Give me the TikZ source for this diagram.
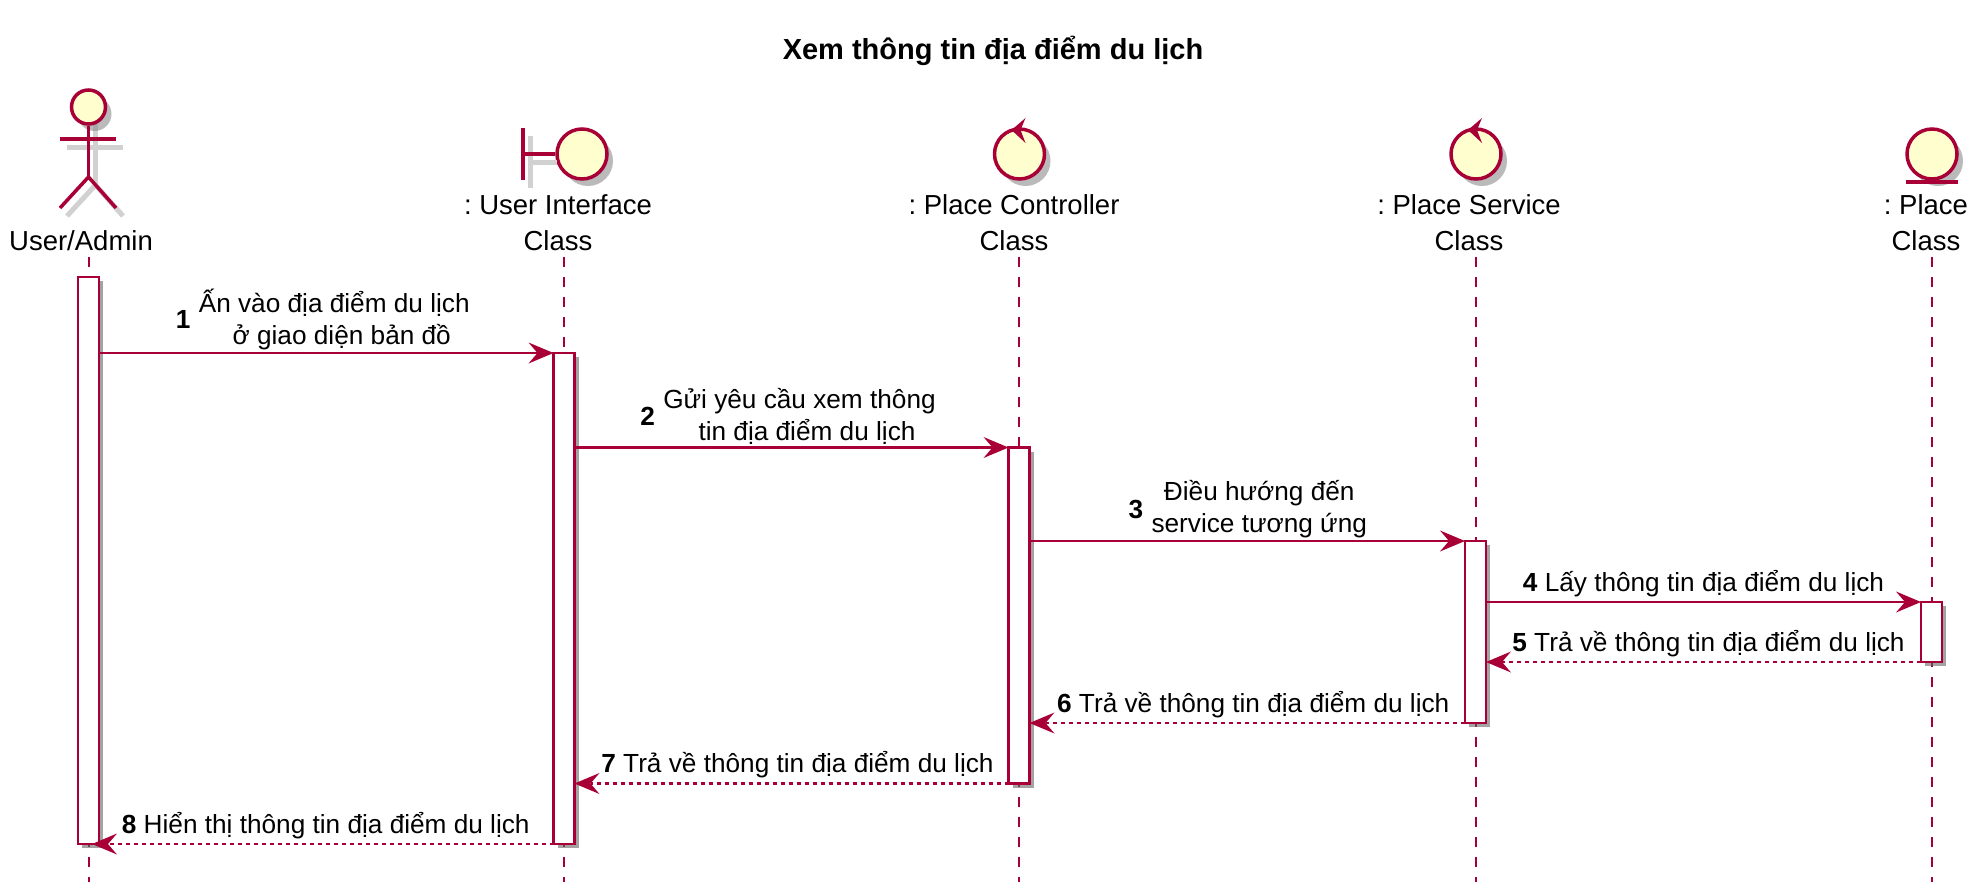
\documentclass[tikz,border=0pt]{standalone}
\usepackage{fontspec}
\setmainfont{Liberation Sans}
\usepackage{xcolor}
\usepackage{tikz}
\usetikzlibrary{positioning, shapes, arrows.meta, calc, shadows}

\definecolor{seqline}{HTML}{A80036}
\definecolor{seqfill}{HTML}{FEFECE}

\tikzset{
  headshadow/.style={drop shadow={shadow xshift=6pt, shadow yshift=-7pt, fill=black!45, opacity=0.6}},
  roundhead/.style={draw=seqline, fill=seqfill, line width=3.5pt, circle, inner sep=0pt, minimum size=50pt, headshadow},
  actorhead/.style={roundhead, minimum size=34pt, circle},
  headtext/.style={align=center, font=\fontsize{27.5}{36}\selectfont, inner sep=0pt},
  headline/.style={draw=seqline, line width=3.5pt},
  limbshadow/.style={draw=black!18, line width=5pt},
  lifeline/.style={draw=seqline, line width=2pt, dash pattern=on 10pt off 10pt},
  actbar/.style={draw=seqline, fill=white, line width=2.4pt, minimum width=21pt, inner sep=0pt, outer sep=0pt, anchor=north,
    drop shadow={shadow xshift=4pt, shadow yshift=-4pt, fill=black!60, opacity=0.6}},
  callmsg/.style={draw=seqline, line width=2.2pt, -{Stealth[length=25pt, width=21pt, inset=9pt, line width=0pt, fill=seqline]}},
  backmsg/.style={callmsg, dash pattern=on 4pt off 4pt},
  msgtext/.style={align=center, font=\fontsize{26.2}{32}\selectfont, inner sep=0pt},
  msgnum/.style={font=\fontsize{26.2}{32}\selectfont\bfseries, inner sep=0pt}
}

\begin{document}
\frenchspacing
\begin{tikzpicture}[x=1pt, y=-1pt]
\useasboundingbox (0,0) rectangle (1982,892);

\node[font=\fontsize{29}{34}\selectfont\bfseries, inner sep=0pt] (title) at (993,51) {Xem thông tin địa điểm du lịch};

% lifelines
\coordinate (usertop) at (88.5,257);
\coordinate (ifacetop) at (564,257);
\coordinate (ctrltop) at (1019,257);
\coordinate (servtop) at (1475.5,257);
\coordinate (placetop) at (1931.5,257);
\coordinate (lifeend) at (0,882);
\draw[lifeline] (usertop) -- (usertop |- lifeend);
\draw[lifeline] (ifacetop) -- (ifacetop |- lifeend);
\draw[lifeline] (ctrltop) -- (ctrltop |- lifeend);
\draw[lifeline] (servtop) -- (servtop |- lifeend);
\draw[lifeline] (placetop) -- (placetop |- lifeend);

% actor
\coordinate (armleft) at (60,139);
\coordinate (armright) at (116,139);
\coordinate (hip) at (88.5,177);
\coordinate (footleft) at (60,208);
\coordinate (footright) at (116,208);
\draw[limbshadow] ([shift={(7,8)}]armleft) -- ([shift={(7,8)}]armright);
\draw[limbshadow] ([shift={(7,0)}]88.5,124) -- ([shift={(7,8)}]hip);
\draw[limbshadow] ([shift={(7,8)}]footleft) -- ([shift={(7,8)}]hip) -- ([shift={(7,8)}]footright);
\node[actorhead] (userhead) at (88.5,107) {};
\draw[headline] (userhead.south) -- (hip);
\draw[headline] (armleft) -- (armright);
\draw[headline] (footleft) -- (hip) -- (footright);
\node[headtext] (usertext) at (81,241) {User/Admin};

% boundary
\node[roundhead] (ifacehead) at (582,154) {};
\coordinate (ifacepost) at (523,154);
\draw[limbshadow] ([shift={(7,-18)}]ifacepost) -- ([shift={(7,34)}]ifacepost);
\draw[limbshadow] ([shift={(7,8)}]ifacepost) -- ([shift={(-25,8)}]ifacehead.center);
\draw[headline] (ifacepost) -- (ifacehead.west);
\draw[headline] ([yshift=26pt]ifacepost) -- ([yshift=-26pt]ifacepost);
\node[headtext, below=14pt of ifacehead, xshift=-24pt] (ifacetext) {: User Interface\\Class};

% control
\node[roundhead] (ctrlhead) at (1019.5,154) {};
\fill[seqline] ([shift={(6,-36)}]ctrlhead.center) -- ([shift={(-8,-24)}]ctrlhead.center) -- ([shift={(6,-11)}]ctrlhead.center) -- ([shift={(1,-24)}]ctrlhead.center) -- cycle;
\node[headtext, below=14pt of ctrlhead, xshift=-5.5pt] (ctrltext) {: Place Controller\\Class};

\node[roundhead] (servhead) at (1476,154) {};
\fill[seqline] ([shift={(6,-36)}]servhead.center) -- ([shift={(-8,-24)}]servhead.center) -- ([shift={(6,-11)}]servhead.center) -- ([shift={(1,-24)}]servhead.center) -- cycle;
\node[headtext, below=14pt of servhead, xshift=-7pt] (servtext) {: Place Service\\Class};

% entity
\node[roundhead] (placehead) at (1932,154) {};
\draw[draw=seqline, line width=4pt] ([shift={(-26,28)}]placehead.center) -- ([shift={(26,28)}]placehead.center);
\node[headtext, below=14pt of placehead, xshift=-6pt] (placetext) {: Place\\Class};

% activation bars
\node[actbar, minimum height=567pt] (userbar) at (88.5,277) {};
\node[actbar, minimum height=491pt] (ifacebar) at (564,353) {};
\node[actbar, minimum height=336pt] (ctrlbar) at (1019,447.5) {};
\node[actbar, minimum height=182pt] (servbar) at (1475.5,541) {};
\node[actbar, minimum height=60pt] (placebar) at (1931.5,602) {};

% messages
\draw[callmsg] (userbar.east |- ifacebar.north) -- node[midway, above=2pt, xshift=8pt, msgtext] (msgone) {Ấn vào địa điểm du lịch\\\hspace*{15pt}ở giao diện bản đồ} (ifacebar.north west);
\draw[callmsg] (ifacebar.east |- ctrlbar.north) -- node[midway, above=2pt, xshift=8pt, msgtext] (msgtwo) {Gửi yêu cầu xem thông\\\hspace*{15pt}tin địa điểm du lịch} (ctrlbar.north west);
\draw[callmsg] (ctrlbar.east |- servbar.north) -- node[midway, above=2pt, xshift=12pt, msgtext] (msgthree) {Điều hướng đến\\service tương ứng} (servbar.north west);
\draw[callmsg] (servbar.east |- placebar.north) -- node[midway, above=4pt, msgtext] (msgfour) {\textbf{4} Lấy thông tin địa điểm du lịch} (placebar.north west);
\draw[backmsg] (placebar.south west) -- node[midway, above=4pt, xshift=5pt, msgtext] (msgfive) {\textbf{5} Trả về thông tin địa điểm du lịch} (servbar.east |- placebar.south);
\draw[backmsg] (servbar.south west) -- node[midway, above=4pt, xshift=6pt, msgtext] (msgsix) {\textbf{6} Trả về thông tin địa điểm du lịch} (ctrlbar.east |- servbar.south);
\draw[backmsg] (ctrlbar.south west) -- node[midway, above=4pt, xshift=6pt, msgtext] (msgseven) {\textbf{7} Trả về thông tin địa điểm du lịch} (ifacebar.east |- ctrlbar.south);
\draw[backmsg] (ifacebar.south west) -- node[midway, above=4pt, xshift=3pt, msgtext] (msgeight) {\textbf{8} Hiển thị thông tin địa điểm du lịch} ([xshift=-7pt]userbar.south east);

\node[msgnum, left=7pt of msgone] (numone) {1};
\node[msgnum, left=7pt of msgtwo] (numtwo) {2};
\node[msgnum, left=7pt of msgthree] (numthree) {3};
\end{tikzpicture}
\end{document}
